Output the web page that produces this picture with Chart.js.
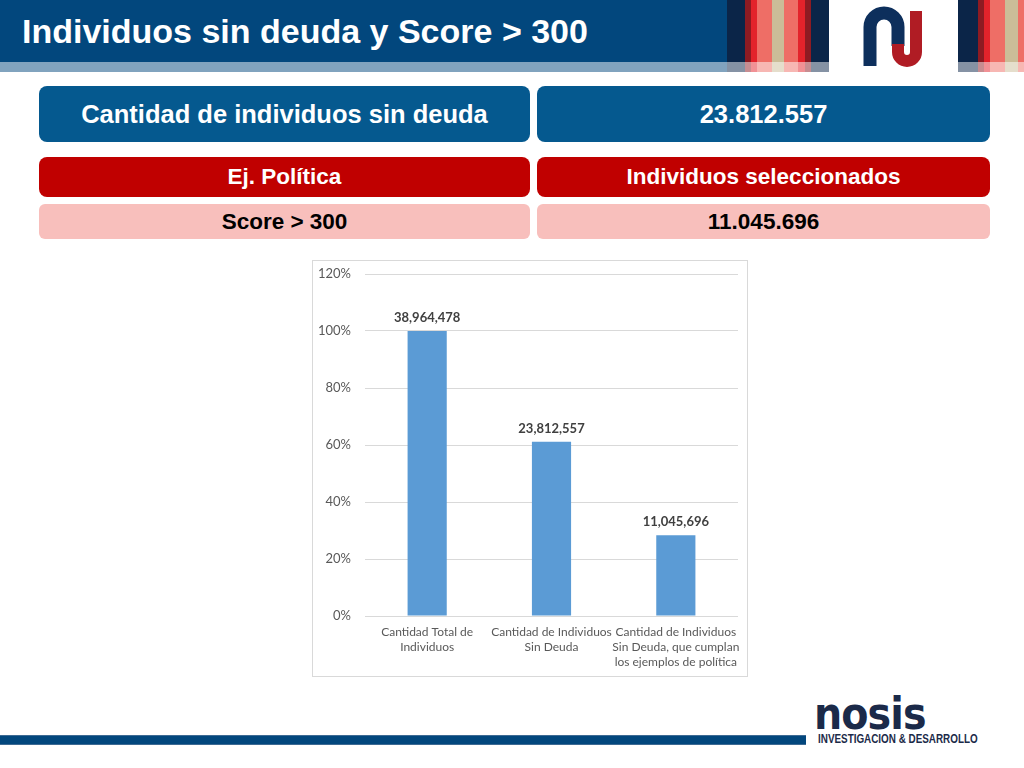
<!DOCTYPE html>
<html>
<head>
<meta charset="utf-8">
<script src="https://cdn.jsdelivr.net/npm/chart.js@4.4.1/dist/chart.umd.min.js"></script>
<style>
  html, body { margin: 0; padding: 0; background: #fff; }
  #slide { position: relative; width: 1024px; height: 768px; overflow: hidden; background: #fff; font-family: "Liberation Sans", Arial, sans-serif; }
  .abs { position: absolute; }
  .box { position: absolute; border-radius: 8px; display: flex; align-items: center; justify-content: center; font-weight: bold; white-space: nowrap; }
  #chartBox { position: absolute; left: 312px; top: 260px; width: 436px; height: 417px; box-sizing: border-box; border: 1px solid #d9d9d9; background: #fff; }
  #chartBox canvas { position: absolute; left: 0; top: 0; }
</style>
</head>
<body>
<div id="slide">
  <!-- header -->
  <div class="abs" style="left:0;top:0;width:727px;height:72px;background:#02477d;"></div>
  <div class="abs" style="left:727px;top:0;width:18px;height:72px;background:#0b2548;"></div>
  <div class="abs" style="left:745px;top:0;width:6px;height:72px;background:#8e1b22;"></div>
  <div class="abs" style="left:751px;top:0;width:6px;height:72px;background:#e3232b;"></div>
  <div class="abs" style="left:757px;top:0;width:15px;height:72px;background:#ee6e66;"></div>
  <div class="abs" style="left:772px;top:0;width:12px;height:72px;background:#cbbd98;"></div>
  <div class="abs" style="left:784px;top:0;width:14px;height:72px;background:#ee6e66;"></div>
  <div class="abs" style="left:798px;top:0;width:7px;height:72px;background:#e3232b;"></div>
  <div class="abs" style="left:805px;top:0;width:6px;height:72px;background:#8e1b22;"></div>
  <div class="abs" style="left:811px;top:0;width:18px;height:72px;background:#0b2548;"></div>
  <div class="abs" style="left:958px;top:0;width:20px;height:72px;background:#0b2548;"></div>
  <div class="abs" style="left:978px;top:0;width:6px;height:72px;background:#8e1b22;"></div>
  <div class="abs" style="left:984px;top:0;width:6px;height:72px;background:#e3232b;"></div>
  <div class="abs" style="left:990px;top:0;width:15px;height:72px;background:#ee6e66;"></div>
  <div class="abs" style="left:1005px;top:0;width:13px;height:72px;background:#cbbd98;"></div>
  <div class="abs" style="left:1018px;top:0;width:6px;height:72px;background:#ee6e66;"></div>
  <div class="abs" style="left:0;top:62px;width:829px;height:10px;background:rgba(255,255,255,0.5);"></div>
  <div class="abs" style="left:958px;top:62px;width:66px;height:10px;background:rgba(255,255,255,0.5);"></div>
  <div class="abs" style="left:22px;top:11px;color:#fff;font-weight:bold;font-size:34px;line-height:40px;white-space:nowrap;">Individuos sin deuda y Score &gt; 300</div>
  <!-- logo -->
  <svg class="abs" style="left:850px;top:0;" width="90" height="72" viewBox="850 0 90 72">
    <path d="M870 66 V27 A14 14 0 0 1 898 27 V46" fill="none" stroke="#0d2f5c" stroke-width="13"/>
    <path d="M898 44 V52 A9 9 0 0 0 916 52 V11" fill="none" stroke="#b01c24" stroke-width="12"/>
  </svg>

  <!-- boxes -->
  <div class="box" style="left:39px;top:86px;width:491px;height:56px;background:#05598f;color:#fff;font-size:25.5px;">Cantidad de individuos sin deuda</div>
  <div class="box" style="left:537px;top:86px;width:453px;height:56px;background:#05598f;color:#fff;font-size:25.5px;">23.812.557</div>
  <div class="box" style="left:39px;top:157px;width:491px;height:40px;background:#c00000;color:#fff;font-size:22.5px;">Ej. Política</div>
  <div class="box" style="left:537px;top:157px;width:453px;height:40px;background:#c00000;color:#fff;font-size:22.5px;">Individuos seleccionados</div>
  <div class="box" style="left:39px;top:204px;width:491px;height:35px;background:#f8bfbc;color:#000;font-size:22.5px;border-radius:6px;">Score &gt; 300</div>
  <div class="box" style="left:537px;top:204px;width:453px;height:35px;background:#f8bfbc;color:#000;font-size:22.5px;border-radius:6px;">11.045.696</div>

  <!-- chart -->
  <div id="chartBox"><canvas id="c" width="434" height="415"></canvas></div>

  <!-- footer -->
  <div class="abs" style="left:0;top:735px;width:806px;height:10px;background:#02477d;border-top:1px solid #3d6a93;border-bottom:1px solid #3d6a93;box-sizing:border-box;"></div>
  <div class="abs" style="left:814px;top:690px;color:#1b2a49;font-family:'DejaVu Sans',sans-serif;font-weight:bold;font-size:44px;line-height:48px;letter-spacing:-1px;transform:scaleX(0.9);transform-origin:left top;white-space:nowrap;">nosis</div>
  <div class="abs" style="left:818px;top:732px;color:#1b2a49;font-family:'Liberation Sans',sans-serif;font-weight:bold;font-size:12.5px;line-height:14px;transform:scaleX(0.79);transform-origin:left top;white-space:nowrap;">INVESTIGACION &amp; DESARROLLO</div>
</div>

<script>
// ---- data ----
const categories = [
  ["Cantidad Total de", "Individuos"],
  ["Cantidad de Individuos", "Sin Deuda"],
  ["Cantidad de Individuos", "Sin Deuda, que cumplan", "los ejemplos de política"]
];
const percentOfTotal = [100, 61.1, 28.35];
const counts = [38964478, 23812557, 11045696];
const yTicks = [0, 20, 40, 60, 80, 100, 120];

const fmtCount = n => n.toString().replace(/\B(?=(\d{3})+(?!\d))/g, ",");

const valueLabels = {
  id: 'valueLabels',
  afterDatasetsDraw(chart) {
    const ctx = chart.ctx;
    const meta = chart.getDatasetMeta(0);
    ctx.save();
    ctx.font = "bold 13px Lato, 'Open Sans', sans-serif";
    ctx.fillStyle = "#404040";
    ctx.textAlign = "center";
    ctx.textBaseline = "middle";
    meta.data.forEach((bar, i) => {
      ctx.fillText(fmtCount(counts[i]), bar.x, bar.y - 13);
    });
    ctx.restore();
  }
};

new Chart(document.getElementById('c'), {
  type: 'bar',
  data: {
    labels: categories,
    datasets: [{
      data: percentOfTotal,
      backgroundColor: '#5b9bd5',
      barPercentage: 0.315,
      categoryPercentage: 1
    }]
  },
  options: {
    responsive: false,
    animation: false,
    layout: { autoPadding: false, padding: { top: 13, right: 9, left: 0, bottom: 0 } },
    plugins: { legend: { display: false }, tooltip: { enabled: false } },
    scales: {
      y: {
        min: yTicks[0],
        max: yTicks[yTicks.length - 1],
        afterBuildTicks: s => { s.ticks = yTicks.map(v => ({ value: v })); },
        afterFit: s => { s.width = 52; s.paddingTop = 0; s.paddingBottom = 0; },
        ticks: {
          callback: v => v + '%',
          color: '#595959',
          padding: 14,
          font: { family: "Lato, 'Open Sans', sans-serif", size: 13 }
        },
        grid: { color: '#d9d9d9', drawTicks: false },
        border: { display: false }
      },
      x: {
        afterFit: s => { s.height = 60; s.paddingLeft = 0; s.paddingRight = 0; },
        ticks: {
          color: '#595959',
          padding: 9,
          maxRotation: 0,
          autoSkip: false,
          font: { family: "Lato, 'Open Sans', sans-serif", size: 12, lineHeight: 1.25 }
        },
        grid: { display: false, drawTicks: false },
        border: { display: false }
      }
    }
  },
  plugins: [valueLabels]
});
</script>
</body>
</html>
